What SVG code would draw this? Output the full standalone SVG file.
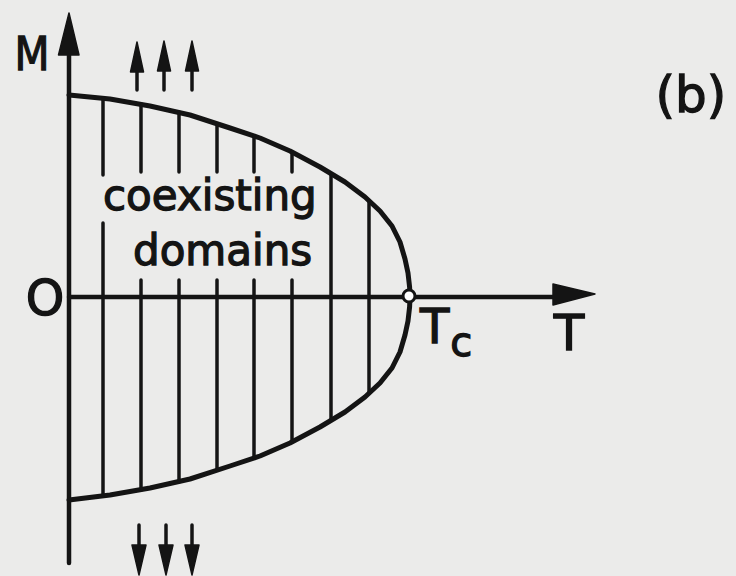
<svg xmlns="http://www.w3.org/2000/svg" width="736" height="576" viewBox="0 0 736 576">
<style>
.ink{stroke:#141414;fill:none;stroke-linecap:round;stroke-linejoin:round}
.ax{stroke-width:4.5}
.cv{stroke-width:5}
.hl{stroke-width:3.5}
.head{fill:#141414;stroke:#141414;stroke-width:1.5;stroke-linejoin:round}
.lbl{font-family:"DejaVu Sans",sans-serif;fill:#141414;stroke:#141414;stroke-width:1.3}
</style>
<rect width="736" height="576" fill="#ebebea"/>
<g id="axes">
<line class="ink ax" x1="69" y1="563" x2="69" y2="40"/>
<polygon class="head" points="69,13 58.5,55 79,55"/>
<line class="ink ax" x1="69" y1="297" x2="570" y2="297"/>
<polygon class="head" points="595,294 553,284 553,305"/>
</g>
<g id="curve">
<path class="ink cv" d="M69,95 L110,99 L150,106 L190,115 L230,128 L260,138 L290,151 L320,167 L345,182 L365,197 L380,211 L392,226 L400,242 L405,259 L408,273 L409.6,287 L410,297 L409.6,307 L408,321 L405,335 L400,352 L392,368 L380,383 L365,397 L345,412 L320,427 L290,443 L260,456 L230,466 L190,479 L150,488 L110,495 L69,500"/>
</g>
<g id="hatching">
<line class="ink hl" x1="103" y1="98" x2="103" y2="175"/>
<line class="ink hl" x1="103" y1="223" x2="103" y2="496"/>
<line class="ink hl" x1="141" y1="104" x2="141" y2="172"/>
<line class="ink hl" x1="141" y1="280" x2="141" y2="490"/>
<line class="ink hl" x1="179" y1="112" x2="179" y2="172"/>
<line class="ink hl" x1="179" y1="280" x2="179" y2="482"/>
<line class="ink hl" x1="217" y1="124" x2="217" y2="172"/>
<line class="ink hl" x1="217" y1="280" x2="217" y2="470"/>
<line class="ink hl" x1="254" y1="136" x2="254" y2="172"/>
<line class="ink hl" x1="254" y1="280" x2="254" y2="458"/>
<line class="ink hl" x1="292" y1="152" x2="292" y2="172"/>
<line class="ink hl" x1="292" y1="280" x2="292" y2="442"/>
<line class="ink hl" x1="331" y1="174" x2="331" y2="420"/>
<line class="ink hl" x1="369" y1="201" x2="369" y2="393"/>
</g>
<g id="Tc-point">
<circle cx="409" cy="296" r="6" fill="#ffffff" stroke="#141414" stroke-width="3"/>
</g>
<g id="up-arrows">
<line class="ink hl" x1="137" y1="90" x2="137" y2="68"/>
<polygon class="head" points="137,42 130.5,72 143.5,72"/>
<line class="ink hl" x1="164" y1="90" x2="164" y2="68"/>
<polygon class="head" points="164,41 157.5,71 170.5,71"/>
<line class="ink hl" x1="192" y1="90" x2="192" y2="68"/>
<polygon class="head" points="192,41 185.5,71 198.5,71"/>
</g>
<g id="down-arrows">
<line class="ink hl" x1="139" y1="525" x2="139" y2="548"/>
<polygon class="head" points="139,575 132,545 146,545"/>
<line class="ink hl" x1="166" y1="525" x2="166" y2="548"/>
<polygon class="head" points="166,575 159,545 173,545"/>
<line class="ink hl" x1="192" y1="525" x2="192" y2="548"/>
<polygon class="head" points="192,575 185,545 199,545"/>
</g>
<g id="labels">
<text class="lbl" x="32" y="70" font-size="47" text-anchor="middle" textLength="35" lengthAdjust="spacingAndGlyphs">M</text>
<text class="lbl" x="45" y="315" font-size="49" text-anchor="middle">O</text>
<text class="lbl" x="569" y="350" font-size="50" text-anchor="middle">T</text>
<text class="lbl" x="420" y="343" font-size="48">T<tspan font-size="40" dx="1" dy="13">c</tspan></text>
<text class="lbl" x="691" y="112" font-size="50" text-anchor="middle">(b)</text>
<text class="lbl" x="103" y="210" font-size="42">coexisting</text>
<text class="lbl" x="133" y="265" font-size="42">domains</text>
</g>
</svg>
